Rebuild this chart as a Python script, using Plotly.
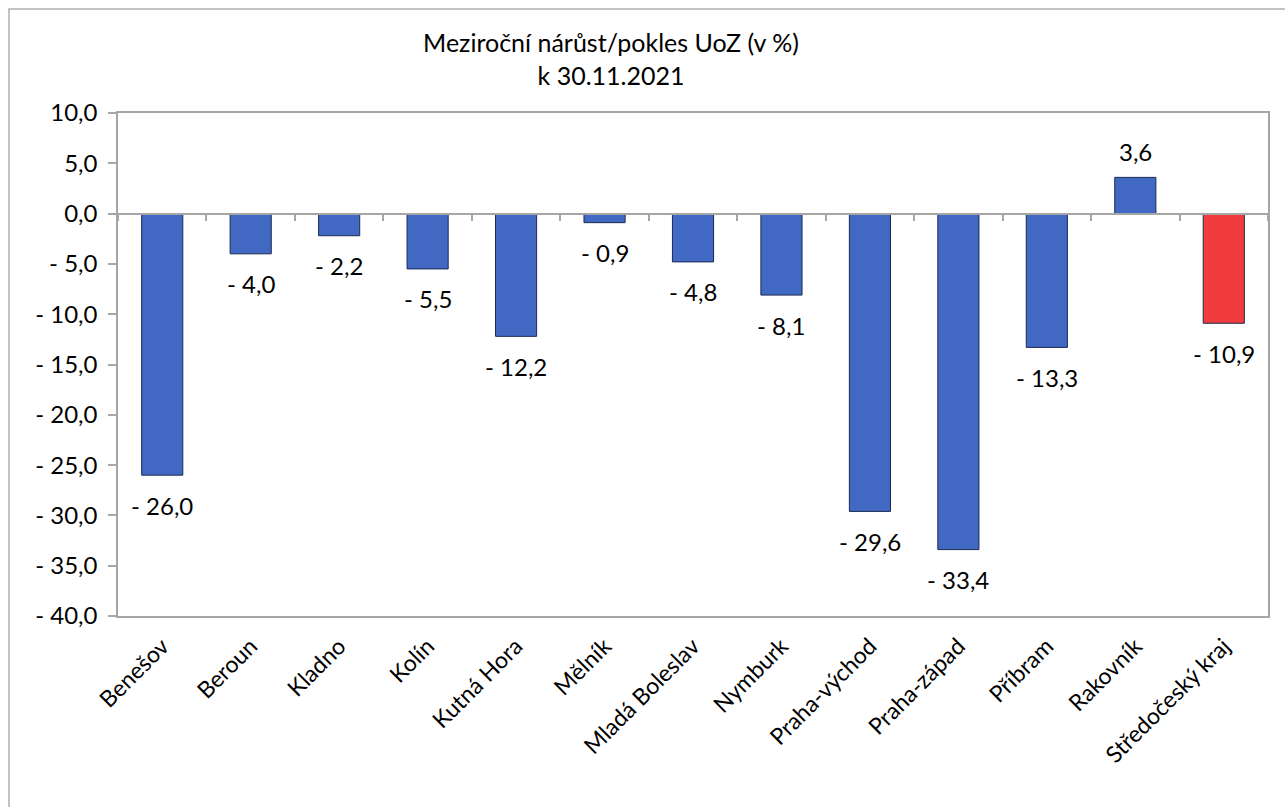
import plotly.graph_objects as go

categories = ["Benešov", "Beroun", "Kladno", "Kolín", "Kutná Hora", "Mělník",
              "Mladá Boleslav", "Nymburk", "Praha-východ", "Praha-západ",
              "Příbram", "Rakovník", "Středočeský kraj"]
values = [-26.0, -4.0, -2.2, -5.5, -12.2, -0.9, -4.8, -8.1, -29.6, -33.4, -13.3, 3.6, -10.9]
y_ticks = [10, 5, 0, -5, -10, -15, -20, -25, -30, -35, -40]
title_lines = ["Meziroční nárůst/pokles UoZ (v %)", "k 30.11.2021"]


def fmt(v):
    s = f"{abs(v):.1f}".replace(".", ",")
    return ("- " + s) if v < 0 else s


colors = ["#4169C4"] * (len(categories) - 1) + ["#F03C3C"]
FONT = "Lato"
W, H = 1285, 807
L, R, T, B = 118, 17, 113, 191
pw, ph = W - L - R, H - T - B

fig = go.Figure()
fig.add_trace(go.Bar(
    x=categories, y=values,
    marker=dict(color=colors, line=dict(color="#1a2a50", width=1)),
    showlegend=False, hoverinfo="skip",
))
fig.add_trace(go.Scatter(
    x=categories, y=values, xaxis="x2", mode="markers",
    marker=dict(opacity=0, size=1), showlegend=False, hoverinfo="skip",
))

for c, v in zip(categories, values):
    fig.add_annotation(x=c, y=v, text=fmt(v), showarrow=False,
                       yshift=(-30 if v < 0 else 26),
                       font=dict(size=24, family=FONT, color="#000000"))

gray = "#A6A6A6"
xr = [-0.5, len(categories) - 0.5]
fig.update_layout(
    width=W, height=H,
    margin=dict(l=L, r=R, t=T, b=B, autoexpand=False),
    paper_bgcolor="white", plot_bgcolor="white",
    font=dict(family=FONT, size=23, color="#000000"),
    bargap=0.535,
    title=dict(text="<br>".join(title_lines), x=611 / W, xanchor="center",
               xref="container", yref="container", y=1 - 52 / H, yanchor="top",
               font=dict(size=25, family=FONT, color="#000000")),
    xaxis=dict(type="category", categoryorder="array", categoryarray=categories,
               range=xr, autorange=False,
               showline=True, linecolor=gray, linewidth=1.5, mirror=True,
               ticks="", tickangle=-45, showgrid=False, ticklabelstandoff=6,
               tickfont=dict(size=23, family=FONT, color="#000000")),
    xaxis2=dict(type="category", categoryorder="array", categoryarray=categories,
                overlaying="x", anchor="free", position=0.8, side="bottom",
                range=xr, autorange=False,
                showline=True, linecolor=gray, linewidth=1.5,
                ticks="outside", tickson="boundaries", ticklen=7, tickcolor=gray,
                tickwidth=1.5, showticklabels=False, showgrid=False),
    yaxis=dict(range=[-40, 10], tickvals=y_ticks, ticktext=[fmt(v) for v in y_ticks],
               showline=True, linecolor=gray, linewidth=1.5, mirror=True,
               ticks="outside", ticklen=8, tickcolor=gray, tickwidth=1.5,
               ticklabelstandoff=6,
               showgrid=False, zeroline=False,
               tickfont=dict(size=24, family=FONT, color="#000000")),
    shapes=[dict(type="rect", xref="paper", yref="paper",
                 x0=(9 - L) / pw, x1=(W + 30 - L) / pw,
                 y0=(T + ph - (H + 30)) / ph, y1=(T + ph - 9) / ph,
                 line=dict(color="#B0B0B0", width=1.5), fillcolor="rgba(0,0,0,0)",
                 layer="below")],
)

fig.write_html("out.html",
               config={"displayModeBar": False},
               post_script="document.body.style.margin='0';"
                           "document.body.style.overflow='hidden';")
